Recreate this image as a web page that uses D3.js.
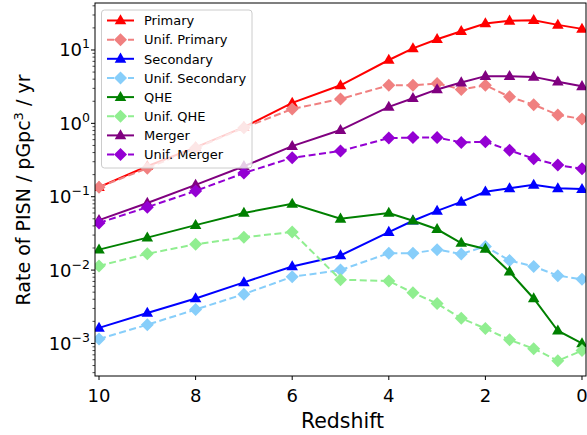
<!DOCTYPE html>
<html>
<head>
<meta charset="utf-8">
<script src="https://cdn.jsdelivr.net/npm/d3@7"></script>
<style>
  body { margin: 0; background: #fff; }
  svg { font-family: "DejaVu Sans", sans-serif; }
</style>
</head>
<body>
<div id="chart"></div>
<script>
(function() {
	var redshift = [10, 9, 8, 7, 6, 5, 4, 3.5, 3, 2.5, 2, 1.5, 1, 0.5, 0];

	var primary     = [0.135, 0.26, 0.47, 0.89, 1.9, 3.3, 7.3, 10.5, 14, 18, 23, 25, 25.5, 22, 19.4];
	var unifPrimary = [0.135, 0.245, 0.46, 0.87, 1.57, 2.15, 3.3, 3.3, 3.5, 2.9, 3.3, 2.3, 1.8, 1.3, 1.15];
	var secondary   = [0.00163, 0.0026, 0.0041, 0.0068, 0.0112, 0.0158, 0.033, 0.047, 0.064, 0.085, 0.117, 0.13, 0.145, 0.13, 0.127];
	var unifSecondary = [0.00115, 0.0018, 0.0029, 0.0047, 0.0081, 0.0100, 0.017, 0.017, 0.019, 0.0166, 0.021, 0.0135, 0.0112, 0.0084, 0.0075];
	var qhe         = [0.019, 0.0277, 0.041, 0.060, 0.080, 0.050, 0.060, 0.047, 0.036, 0.0234, 0.0194, 0.0095, 0.0041, 0.00149, 0.001];
	var unifQhe     = [0.0114, 0.0167, 0.0225, 0.028, 0.033, 0.0074, 0.0071, 0.0049, 0.0035, 0.0022, 0.0016, 0.00112, 0.00085, 0.00058, 0.0008];
	var merger      = [0.048, 0.082, 0.145, 0.26, 0.49, 0.81, 1.68, 2.2, 2.9, 3.6, 4.4, 4.4, 4.3, 3.7, 3.2];
	var unifMerger  = [0.044, 0.072, 0.12, 0.21, 0.34, 0.42, 0.63, 0.64, 0.64, 0.55, 0.56, 0.43, 0.33, 0.27, 0.24];

	var seriesNames = ["Primary", "Unif. Primary", "Secondary", "Unif. Secondary", "QHE", "Unif. QHE", "Merger", "Unif. Merger"];
	var seriesValues = [primary, unifPrimary, secondary, unifSecondary, qhe, unifQhe, merger, unifMerger];
	var seriesColors = ["#ff0000", "#f08080", "#0000ff", "#87cefa", "#008000", "#90ee90", "#800080", "#9400d3"];

	var xTicks = [10, 8, 6, 4, 2, 0];
	var yTicks = [1e-3, 1e-2, 1e-1, 1e0, 1e1];
	var yExps = ["\u22123", "\u22122", "\u22121", "0", "1"];

	var svgwidth = 587;
	var svgheight = 435;
	var left = 95, right = 586, top = 3, bottom = 376;

	var svg = d3.select("#chart")
				.append("svg")
				.attr("width", svgwidth)
				.attr("height", svgheight);

	var x = d3.scaleLinear().domain([10.083, -0.083]).range([left, right]);
	var y = d3.scaleLog().domain([3.6e-4, 43.7]).range([bottom, top]);

	// clip so the markers at the edges get cut like in the picture
	svg.append("clipPath").attr("id", "clip")
		.append("rect")
		.attr("x", left).attr("y", top)
		.attr("width", right - left).attr("height", bottom - top);

	var plot = svg.append("g").attr("clip-path", "url(#clip)");

	var tri = d3.symbol().type(d3.symbolTriangle).size(58)();
	// matplotlib 'D' is a square turned 45 degrees
	var dia = "M0,-6.5L6.5,0L0,6.5L-6.5,0Z";

	var line = d3.line()
				.x(function(d){ return x(d[0]); })
				.y(function(d){ return y(d[1]); });

	seriesValues.forEach(function(vals, i){
		var pts = redshift.map(function(z, j){ return [z, vals[j]]; });
		var dashed = i % 2 == 1;
		plot.append("path")
			.attr("d", line(pts))
			.attr("fill", "none")
			.attr("stroke", seriesColors[i])
			.attr("stroke-width", 2)
			.attr("stroke-dasharray", dashed ? "7,3.5" : null);
		plot.selectAll(null)
			.data(pts)
			.enter()
			.append("path")
			.attr("d", dashed ? dia : tri)
			.attr("transform", function(d){
				return "translate(" + x(d[0]) + "," + (y(d[1]) + (dashed ? 0 : 0.5)) + ")";
			})
			.attr("fill", seriesColors[i]);
	});

	// frame
	svg.append("rect")
		.attr("x", left).attr("y", top)
		.attr("width", right - left).attr("height", bottom - top)
		.attr("fill", "none")
		.attr("stroke", "#000")
		.attr("stroke-width", 1);

	// x axis
	var xAxis = svg.append("g");
	xTicks.forEach(function(t){
		xAxis.append("line")
			.attr("x1", x(t)).attr("x2", x(t))
			.attr("y1", bottom).attr("y2", bottom + 4)
			.attr("stroke", "#000").attr("stroke-width", 1);
		xAxis.append("text")
			.attr("x", x(t)).attr("y", 402)
			.attr("text-anchor", "middle")
			.attr("font-size", 18)
			.text(t);
	});
	svg.append("text")
		.attr("x", (left + right) / 2 + 2).attr("y", 428)
		.attr("text-anchor", "middle")
		.attr("font-size", 20.5)
		.text("Redshift");

	// y axis, major + minor ticks
	var yAxis = svg.append("g");
	for (var e = -4; e <= 1; e++) {
		for (var m = 1; m < 10; m++) {
			var v = m * Math.pow(10, e);
			if (v < y.domain()[0] || v > y.domain()[1]) continue;
			yAxis.append("line")
				.attr("x1", left).attr("x2", left - (m == 1 ? 4 : 2.5))
				.attr("y1", y(v)).attr("y2", y(v))
				.attr("stroke", "#000").attr("stroke-width", m == 1 ? 1 : 0.7);
		}
	}
	yTicks.forEach(function(t, i){
		var lab = yAxis.append("text")
			.attr("x", left - 5).attr("y", y(t) + 6.5)
			.attr("text-anchor", "end")
			.attr("font-size", 18);
		lab.append("tspan").text("10");
		lab.append("tspan").attr("dy", -8).attr("font-size", 12.5).text(yExps[i]);
	});

	var ylab = svg.append("text")
		.attr("transform", "translate(30,190) rotate(-90)")
		.attr("text-anchor", "middle")
		.attr("font-size", 19);
	ylab.append("tspan").text("Rate of PISN / pGpc");
	ylab.append("tspan").attr("dy", -7).attr("font-size", 13).text("3");
	ylab.append("tspan").attr("dy", 7).text(" / yr");

	// legend
	var lg = svg.append("g").attr("transform", "translate(101.5,10)");
	lg.append("rect")
		.attr("width", 150.5).attr("height", 158)
		.attr("rx", 3)
		.attr("fill", "#fff").attr("fill-opacity", 0.8)
		.attr("stroke", "#ccc").attr("stroke-width", 1);

	var rows = lg.selectAll("g.row")
				.data(seriesNames)
				.enter()
				.append("g")
				.attr("class", "row")
				.attr("transform", function(d, i){
					return "translate(0," + (10.5 + i * 19.15) + ")";
				});

	rows.append("line")
		.attr("x1", 5.5).attr("x2", 32.5)
		.attr("stroke", function(d, i){ return seriesColors[i]; })
		.attr("stroke-width", 2)
		.attr("stroke-dasharray", function(d, i){ return i % 2 == 1 ? "7,3.5" : null; });
	rows.append("path")
		.attr("d", function(d, i){ return i % 2 == 1 ? dia : tri; })
		.attr("transform", function(d, i){ return "translate(19," + (i % 2 == 1 ? 0 : 0.5) + ")"; })
		.attr("fill", function(d, i){ return seriesColors[i]; });
	rows.append("text")
		.attr("x", 42.5).attr("y", 4.7)
		.attr("font-size", 13)
		.text(function(d){ return d; });
})();
</script>
</body>
</html>
